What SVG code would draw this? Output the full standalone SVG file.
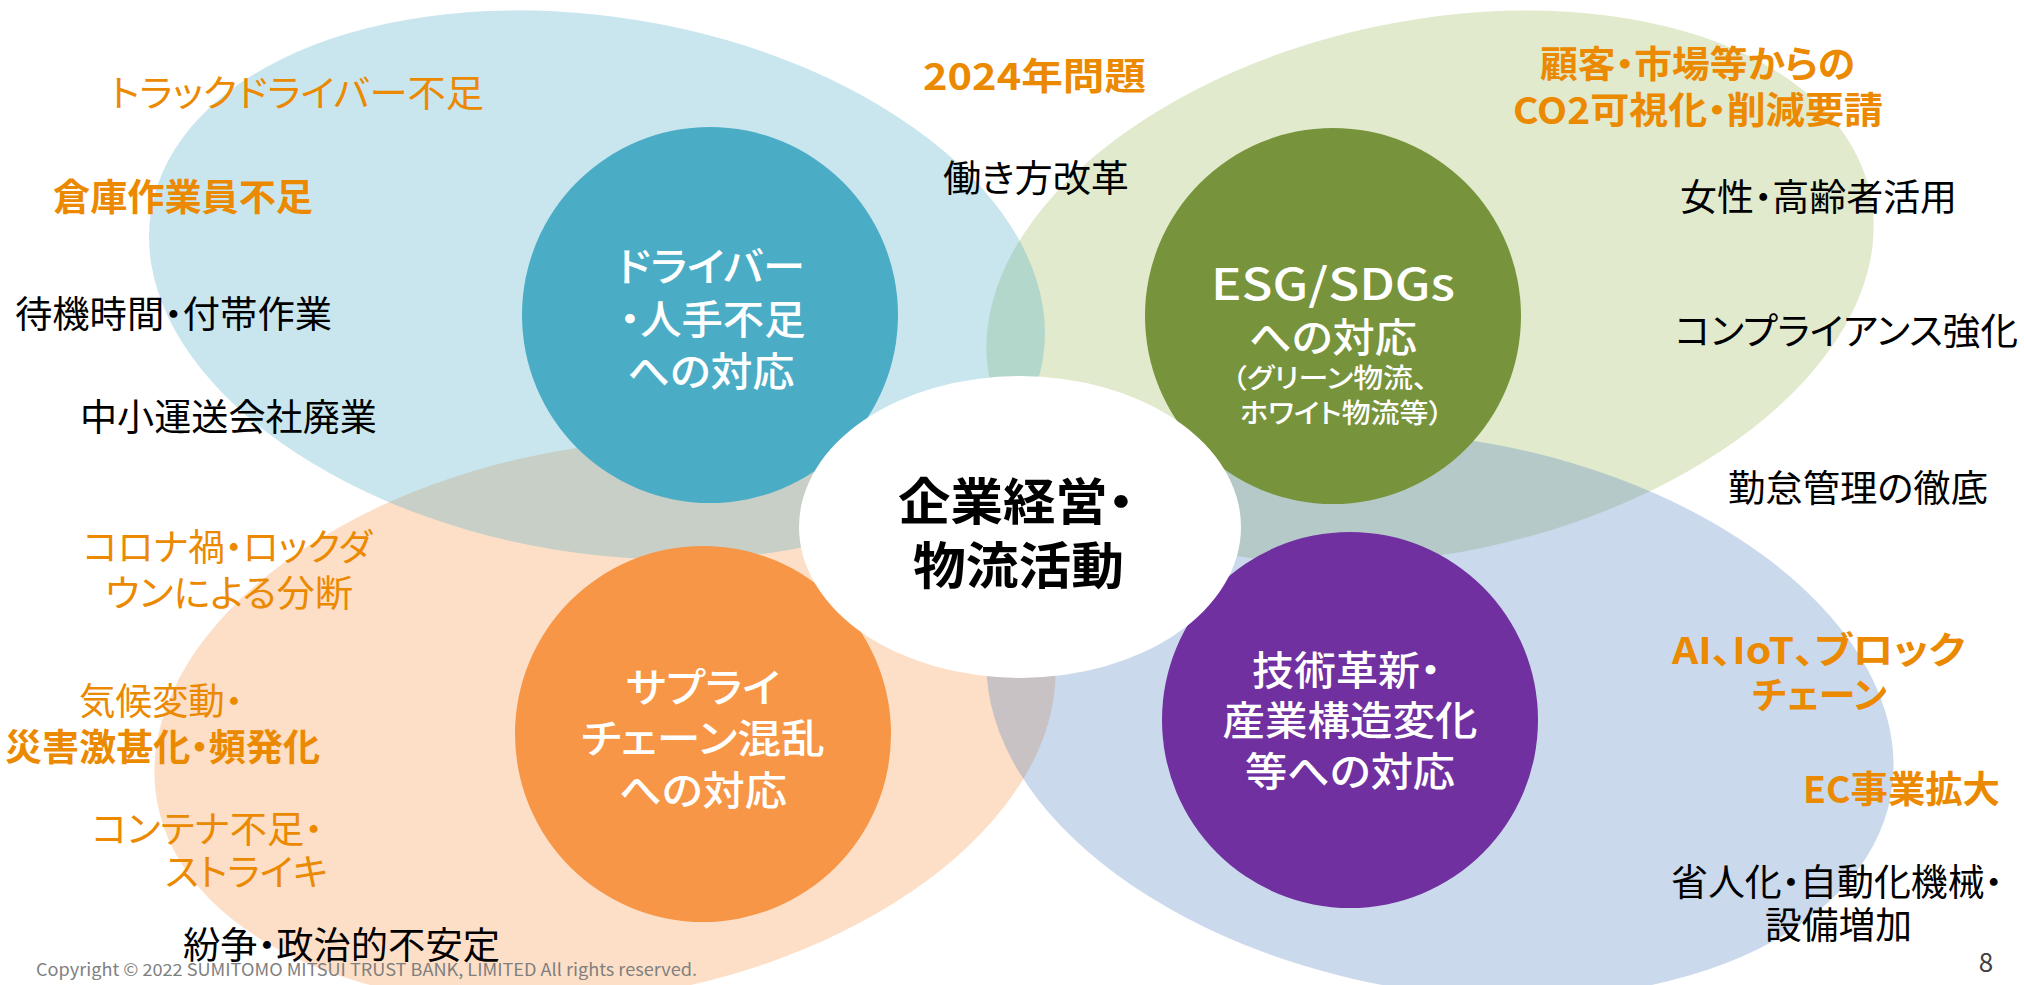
<svg xmlns="http://www.w3.org/2000/svg" width="2024" height="985" viewBox="0 0 2024 985">
<style>
text{font-family:"Noto Sans CJK JP","Noto Sans",sans-serif;font-feature-settings:"palt" 1}
.or{fill:#EB8900}
.bk{fill:#000}
.wh{fill:#fff;font-weight:500}
.b{font-weight:700}
.o37{font-size:37px}
.c40{font-size:40px}
.petal{fill-opacity:0.3}
</style>
<rect width="2024" height="985" fill="#fff"/>
<g id="petals">
<ellipse id="petal-green" class="petal" cx="1430" cy="287" rx="450" ry="266" fill="#9BBB59" transform="rotate(-12 1430 287)"/>
<ellipse id="petal-orange" class="petal" cx="605" cy="722" rx="455" ry="275" fill="#F79646" transform="rotate(-10 605 722)"/>
<ellipse id="petal-blue" class="petal" cx="597" cy="285" rx="452" ry="268" fill="#4BACC6" transform="rotate(9.5 597 285)"/>
<ellipse id="petal-lightblue" class="petal" cx="1440" cy="715" rx="458" ry="276" fill="#4F81BD" transform="rotate(10 1440 715)"/>
</g>
<g id="connectors"></g>
<g id="node-driver">
<circle cx="710" cy="315" r="188" fill="#4BACC6"/>
<text class="wh c40" text-anchor="middle"><tspan x="711" y="281" textLength="188" lengthAdjust="spacingAndGlyphs">ドライバー</tspan><tspan x="712.5" y="334" textLength="186" lengthAdjust="spacingAndGlyphs">・人手不足</tspan><tspan x="711" y="386" textLength="167" lengthAdjust="spacingAndGlyphs">への対応</tspan></text>
</g>
<g id="node-esg">
<circle cx="1333" cy="316" r="188" fill="#77933C"/>
<text class="wh" text-anchor="middle"><tspan style="font-size:44px" x="1333" y="300" textLength="244" lengthAdjust="spacingAndGlyphs">ESG/SDGs</tspan><tspan style="font-size:40px" x="1333" y="352" textLength="168" lengthAdjust="spacingAndGlyphs">への対応</tspan><tspan style="font-size:27px" x="1330" y="388" textLength="196" lengthAdjust="spacingAndGlyphs">（グリーン物流、</tspan><tspan style="font-size:27px" x="1341.5" y="423" textLength="203" lengthAdjust="spacingAndGlyphs">ホワイト物流等）</tspan></text>
</g>
<g id="node-supply">
<circle cx="703" cy="734" r="188" fill="#F79646"/>
<text class="wh c40" text-anchor="middle"><tspan x="703" y="702" textLength="154" lengthAdjust="spacingAndGlyphs">サプライ</tspan><tspan x="703" y="753" textLength="244" lengthAdjust="spacingAndGlyphs">チェーン混乱</tspan><tspan x="703" y="805" textLength="168" lengthAdjust="spacingAndGlyphs">への対応</tspan></text>
</g>
<g id="node-tech">
<circle cx="1350" cy="720" r="188" fill="#7030A0"/>
<text class="wh c40" text-anchor="middle"><tspan x="1346.5" y="685" textLength="189" lengthAdjust="spacingAndGlyphs">技術革新・</tspan><tspan x="1350" y="735" textLength="255" lengthAdjust="spacingAndGlyphs">産業構造変化</tspan><tspan x="1350" y="786" textLength="210" lengthAdjust="spacingAndGlyphs">等への対応</tspan></text>
</g>
<g id="node-center">
<ellipse cx="1020" cy="527" rx="221" ry="151" fill="#fff"/>
<text class="bk b" style="font-size:50px" text-anchor="middle"><tspan x="1016" y="520" textLength="236" lengthAdjust="spacingAndGlyphs">企業経営・</tspan><tspan x="1018.5" y="584" textLength="211" lengthAdjust="spacingAndGlyphs">物流活動</tspan></text>
</g>
<g id="labels-driver">
<text class="or o37" x="297" y="107" text-anchor="middle" textLength="374" lengthAdjust="spacingAndGlyphs">トラックドライバー不足</text>
<text class="or o37 b" x="183" y="211" text-anchor="middle" textLength="260" lengthAdjust="spacingAndGlyphs">倉庫作業員不足</text>
<text class="bk o37" x="173.5" y="328" text-anchor="middle" textLength="317" lengthAdjust="spacingAndGlyphs">待機時間・付帯作業</text>
<text class="bk o37" x="228.5" y="431" text-anchor="middle" textLength="297" lengthAdjust="spacingAndGlyphs">中小運送会社廃業</text>
<text class="or o37 b" x="1034.5" y="90" text-anchor="middle" textLength="223" lengthAdjust="spacingAndGlyphs">2024年問題</text>
<text class="bk o37" x="1036" y="192" text-anchor="middle" textLength="186" lengthAdjust="spacingAndGlyphs">働き方改革</text>
</g>
<g id="labels-esg">
<text class="or o37 b" text-anchor="middle"><tspan x="1697.5" y="78" textLength="315" lengthAdjust="spacingAndGlyphs">顧客・市場等からの</tspan><tspan x="1698" y="124" textLength="370" lengthAdjust="spacingAndGlyphs">CO2可視化・削減要請</tspan></text>
<text class="bk o37" x="1818.5" y="211" text-anchor="middle" textLength="277" lengthAdjust="spacingAndGlyphs">女性・高齢者活用</text>
<text class="bk o37" x="1846.5" y="345" text-anchor="middle" textLength="343" lengthAdjust="spacingAndGlyphs">コンプライアンス強化</text>
<text class="bk o37" x="1858" y="502" text-anchor="middle" textLength="260" lengthAdjust="spacingAndGlyphs">勤怠管理の徹底</text>
</g>
<g id="labels-supply">
<text class="or o37" text-anchor="middle"><tspan x="227.5" y="561" textLength="289" lengthAdjust="spacingAndGlyphs">コロナ禍・ロックダ</tspan><tspan x="229" y="607" textLength="248" lengthAdjust="spacingAndGlyphs">ウンによる分断</tspan></text>
<text class="or o37" text-anchor="middle"><tspan x="161" y="715" textLength="164" lengthAdjust="spacingAndGlyphs">気候変動・</tspan><tspan class="b" x="162.5" y="761" textLength="315" lengthAdjust="spacingAndGlyphs">災害激甚化・頻発化</tspan></text>
<text class="or o37" text-anchor="middle"><tspan x="207.5" y="843" textLength="231" lengthAdjust="spacingAndGlyphs">コンテナ不足・</tspan><tspan x="246.5" y="886" textLength="163" lengthAdjust="spacingAndGlyphs">ストライキ</tspan></text>
<text class="bk o37" x="341.5" y="959" text-anchor="middle" textLength="317" lengthAdjust="spacingAndGlyphs">紛争・政治的不安定</text>
</g>
<g id="labels-tech">
<text class="or o37 b" text-anchor="middle"><tspan x="1818.5" y="664" textLength="293" lengthAdjust="spacingAndGlyphs">AI、IoT、ブロック</tspan><tspan x="1819.5" y="709" textLength="135" lengthAdjust="spacingAndGlyphs">チェーン</tspan></text>
<text class="or o37 b" x="1901.5" y="803" text-anchor="middle" textLength="197" lengthAdjust="spacingAndGlyphs">EC事業拡大</text>
<text class="bk o37" text-anchor="middle"><tspan x="1837" y="896" textLength="332" lengthAdjust="spacingAndGlyphs">省人化・自動化機械・</tspan><tspan x="1838.5" y="939" textLength="147" lengthAdjust="spacingAndGlyphs">設備増加</tspan></text>
</g>
<g id="footer">
<text x="36" y="976" style="font-size:17px;fill:#7F7F7F" textLength="661" lengthAdjust="spacingAndGlyphs">Copyright © 2022 SUMITOMO MITSUI TRUST BANK, LIMITED All rights reserved.</text>
<text x="1986" y="972" style="font-size:26px;fill:#404040" text-anchor="middle">8</text>
</g>
</svg>
